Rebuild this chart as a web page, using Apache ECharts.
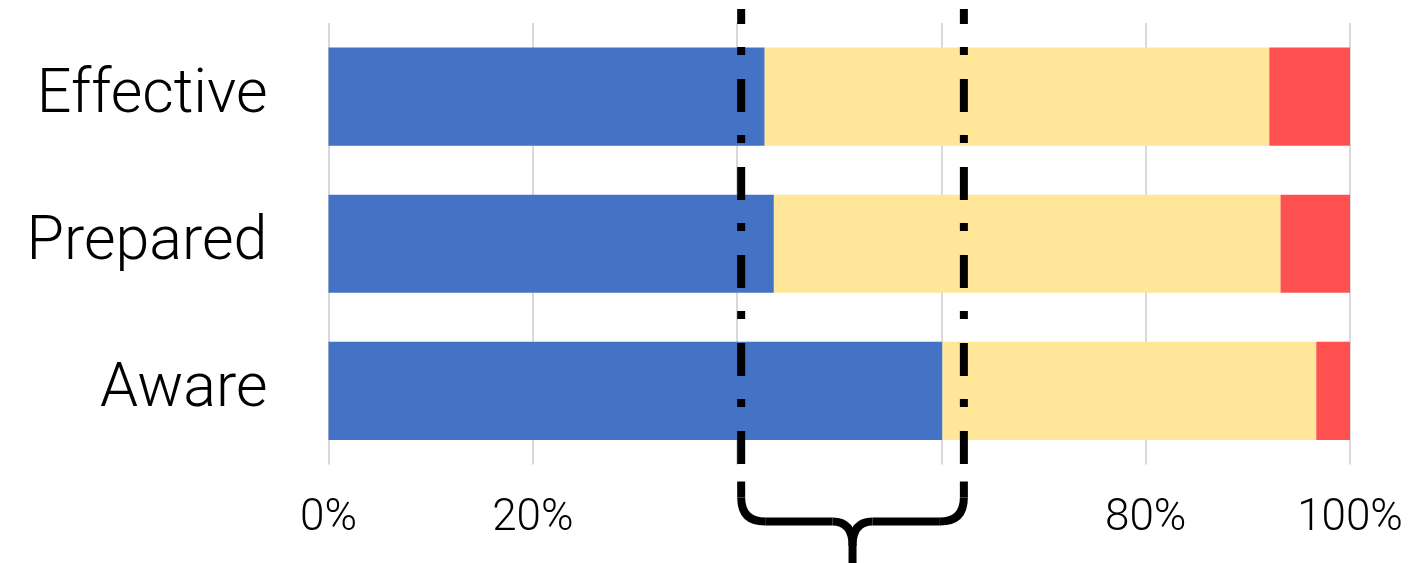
<!DOCTYPE html>
<html>
<head>
<meta charset="utf-8">
<script src="https://cdn.jsdelivr.net/npm/echarts@6/dist/echarts.min.js"></script>
<style>
    html, body { margin: 0; padding: 0; background: #fff; }
    #chartBar { width: 1412px; height: 563px; }
</style>
</head>
<body>
<div id="chartBar"></div>
<script>
    // categories top to bottom
    var categories = ['Effective', 'Prepared', 'Aware'];
    // share of each category, percent
    var blueValues = [42.7, 43.6, 60.1];
    var yellowValues = [49.4, 49.6, 36.6];
    var redValues = [7.9, 6.8, 3.3];
    // x tick labels (40% and 60% are not shown)
    var tickLabels = ['0%', '20%', '', '', '80%', '100%'];
    // dash-dot markers / brace span on the x axis, percent
    var bracketRange = [40.4, 62.2];

    var fontName = 'Roboto, "Liberation Sans", sans-serif';

    var chartBar = echarts.init(document.getElementById('chartBar'), null, { renderer: 'canvas' });

    chartBar.setOption({
        animation: false,
        backgroundColor: '#ffffff',
        grid: {
            left: 328.5,
            right: 62,
            top: 23,
            bottom: 98.5
        },
        xAxis: {
            type: 'value',
            min: 0,
            max: 100,
            interval: 20,
            axisLine: { show: false },
            axisTick: { show: false },
            splitLine: { lineStyle: { color: '#d9d9d9', width: 2 } },
            axisLabel: {
                margin: 32,
                fontSize: 44,
                fontFamily: fontName,
                fontWeight: 300,
                color: '#000',
                formatter: function (v) { return tickLabels[Math.round(v / 20)]; }
            }
        },
        yAxis: {
            type: 'category',
            inverse: true,
            data: categories,
            axisLine: { show: false },
            axisTick: { show: false },
            axisLabel: {
                margin: 61,
                fontSize: 61,
                fontFamily: fontName,
                fontWeight: 300,
                color: '#000'
            }
        },
        series: [
            {
                name: 'Blue',
                type: 'bar',
                stack: 'total',
                barCategoryGap: '33.3%',
                itemStyle: { color: '#4472C4' },
                data: blueValues
            },
            {
                name: 'Yellow',
                type: 'bar',
                stack: 'total',
                itemStyle: { color: '#FFE699' },
                data: yellowValues
            },
            {
                name: 'Red',
                type: 'bar',
                stack: 'total',
                itemStyle: { color: '#FF5050' },
                data: redValues
            }
        ]
    });

    // annotation: dash-dot verticals and the curly brace below
    var rect = chartBar.getModel().getComponent('grid').coordinateSystem.getRect();
    var xl = chartBar.convertToPixel({ xAxisIndex: 0 }, bracketRange[0]);
    var xr = chartBar.convertToPixel({ xAxisIndex: 0 }, bracketRange[1]);
    var xm = (xl + xr) / 2;
    var yTop = rect.y - 14;
    var yBot = rect.y + rect.height;
    var by0 = yBot + 17;   // brace start
    var bh = yBot + 57;    // brace horizontal
    var r = 24;

    var braceStyle = { fill: null, stroke: '#000', lineWidth: 8, lineCap: 'butt' };

    function dashLine(x) {
        return {
            type: 'line',
            z: 100,
            shape: { x1: x, y1: yTop, x2: x, y2: yBot },
            style: { stroke: '#000', lineWidth: 8, lineDash: [33, 23, 8, 24], lineDashOffset: 18, lineCap: 'butt' }
        };
    }
    function seg(x1, y1, x2, y2) {
        return { type: 'line', z: 100, shape: { x1: x1, y1: y1, x2: x2, y2: y2 }, style: braceStyle };
    }
    function curve(x1, y1, cx, cy, x2, y2) {
        return { type: 'bezierCurve', z: 100, shape: { x1: x1, y1: y1, cpx1: cx, cpy1: cy, x2: x2, y2: y2 }, style: braceStyle };
    }

    // one half of the brace, d = +1 for left side, -1 for right side
    function braceHalf(x, d) {
        return [
            seg(x, by0, x, bh - r),
            curve(x, bh - r, x, bh, x + d * r, bh),
            seg(x + d * r, bh, xm - d * 20, bh),
            curve(xm - d * 20, bh, xm, bh, xm, bh + r)
        ];
    }

    var graphics = [dashLine(xl), dashLine(xr)]
        .concat(braceHalf(xl, 1))
        .concat(braceHalf(xr, -1))
        .concat([seg(xm, bh + r - 1, xm, bh + 60)]);

    chartBar.setOption({ graphic: graphics });
</script>
</body>
</html>
